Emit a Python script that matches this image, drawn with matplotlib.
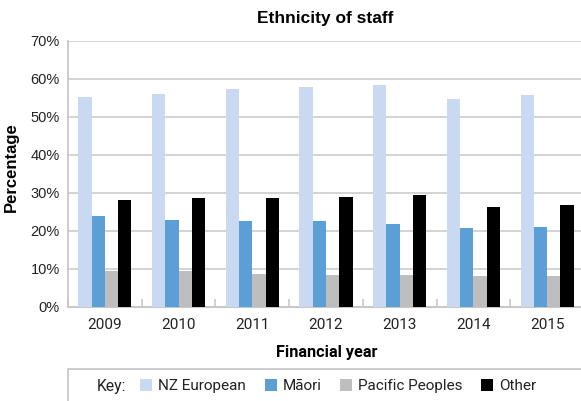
import numpy as np
import matplotlib
matplotlib.use("Agg")
import matplotlib.pyplot as plt
from matplotlib.patches import Rectangle

years = ["2009", "2010", "2011", "2012", "2013", "2014", "2015"]
nz_european = [55.3, 56.0, 57.4, 57.9, 58.4, 54.7, 55.8]
maori = [23.9, 22.9, 22.6, 22.6, 21.8, 20.8, 21.1]
pacific = [9.6, 9.6, 8.8, 8.4, 8.4, 8.2, 8.2]
other = [28.2, 28.7, 28.7, 28.9, 29.5, 26.3, 26.8]

series = ["NZ European", "Māori", "Pacific Peoples", "Other"]
colors = ["#c9d9f1", "#5b9fd6", "#bebebe", "#000000"]

fig = plt.figure(figsize=(5.81, 4.01), dpi=100)
ax = fig.add_axes([68 / 581, 94 / 401, 516 / 581, 266 / 401])

x = np.arange(len(years))
w = 0.18
offsets = [-1.5 * w, -0.5 * w, 0.5 * w, 1.5 * w]
for vals, off, col, name in zip([nz_european, maori, pacific, other], offsets, colors, series):
    ax.bar(x + off, vals, width=w, color=col, label=name, zorder=3)

ax.set_xlim(-0.5, len(years) - 0.5)
ax.set_ylim(0, 70)
ax.set_yticks(range(0, 71, 10))
ax.set_yticklabels([f"{v}%" for v in range(0, 71, 10)], fontfamily="Liberation Sans", fontsize=10.5)
ax.set_xticks(x)
ax.set_xticklabels(years, fontfamily="Roboto", fontsize=11)
ax.set_xticks(np.arange(-0.5, len(years)), minor=True)
ax.tick_params(axis="x", which="major", length=0, pad=8, colors="#222222")
ax.tick_params(axis="x", which="minor", direction="in", length=6, width=1.2, color="#c8c8c8")
ax.tick_params(axis="y", length=0, pad=6, colors="#222222")

ax.grid(axis="y", color="#d0d0d0", linewidth=1.3, zorder=0)
for side in ["top", "right"]:
    ax.spines[side].set_visible(False)
ax.spines["left"].set_color("#c8c8c8")
ax.spines["bottom"].set_color("#c8c8c8")
ax.spines["left"].set_linewidth(1.3)
ax.spines["bottom"].set_linewidth(1.5)

fig.text(325 / 581, 1 - 18 / 401, "Ethnicity of staff", ha="center", va="center",
         fontfamily="Liberation Sans", fontweight="bold", fontsize=12.5)
fig.text(11 / 581, 1 - 167 / 401, "Percentage", rotation=90, ha="center", va="center",
         fontfamily="Liberation Sans", fontweight="bold", fontsize=12)
fig.text(327 / 581, 1 - 352 / 401, "Financial year", ha="center", va="center",
         fontfamily="Roboto", fontweight="bold", fontsize=11.7)

# legend box along the bottom
fig.patches.append(Rectangle((68 / 581, -0.05), 0.95, 1 - 369 / 401 + 0.05,
                             transform=fig.transFigure, facecolor="white",
                             edgecolor="#c8c8c8", linewidth=1.3))
fig.text(97 / 581, 1 - 387 / 401, "Key:", ha="left", va="center",
         fontfamily="Roboto", fontsize=11.3, color="#222222")
leg = fig.legend(loc="center left", bbox_to_anchor=(134 / 581, 1 - 386 / 401), ncol=4,
                 frameon=False, prop={"family": "Roboto", "size": 11},
                 handlelength=0.8, handleheight=0.8, handletextpad=0.4,
                 columnspacing=1.2, borderaxespad=0)
for t in leg.get_texts():
    t.set_color("#222222")

fig.savefig("out.png", dpi=100)
